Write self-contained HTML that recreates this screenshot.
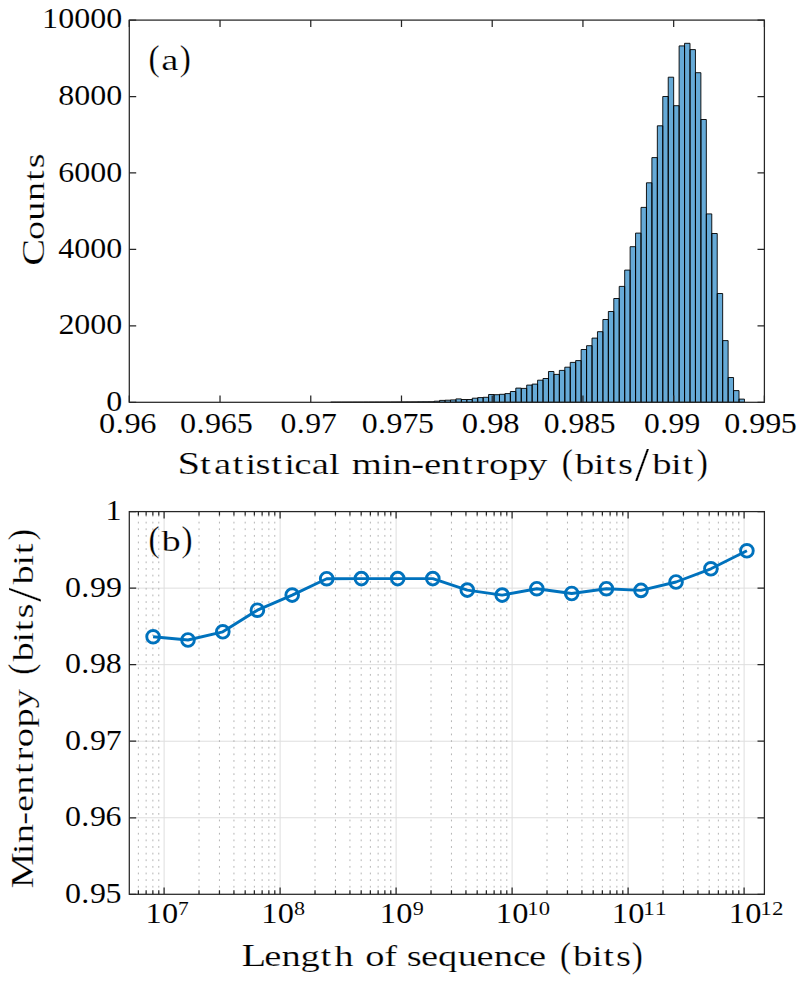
<!DOCTYPE html>
<html><head><meta charset="utf-8"><style>
html,body{margin:0;padding:0;background:#fff;width:811px;height:993px;overflow:hidden}
svg{display:block}
text{font-family:"Liberation Serif",serif}
</style></head><body>
<svg width="811" height="993" viewBox="0 0 811 993"><rect width="811" height="993" fill="#fff"/><path d="M330.72 402.30V402.20H336.16V402.30ZM336.16 402.30V402.19H341.60V402.30ZM341.60 402.30V402.19H347.05V402.30ZM347.05 402.30V402.18H352.49V402.30ZM352.49 402.30V402.17H357.94V402.30ZM357.94 402.30V402.16H363.38V402.30ZM363.38 402.30V402.14H368.82V402.30ZM368.82 402.30V402.12H374.27V402.30ZM374.27 402.30V402.10H379.71V402.30ZM379.71 402.30V402.07H385.15V402.30ZM385.15 402.30V402.05H390.60V402.30ZM390.60 402.30V402.02H396.04V402.30ZM396.04 402.30V401.99H401.49V402.30ZM401.49 402.30V401.95H406.93V402.30ZM406.93 402.30V401.92H412.37V402.30ZM412.37 402.30V401.88H417.82V402.30ZM417.82 402.30V401.84H423.26V402.30ZM423.26 402.30V401.80H428.70V402.30ZM428.70 402.30V401.75H434.15V402.30ZM434.15 402.30V401.20H439.59V402.30ZM439.59 402.30V400.40H445.04V402.30ZM445.04 402.30V400.20H450.48V402.30ZM450.48 402.30V399.90H455.92V402.30ZM455.92 402.30V398.90H461.37V402.30ZM461.37 402.30V399.50H466.81V402.30ZM466.81 402.30V399.50H472.25V402.30ZM472.25 402.30V398.20H477.70V402.30ZM477.70 402.30V397.60H483.14V402.30ZM483.14 402.30V397.30H488.59V402.30ZM488.59 402.30V394.50H494.03V402.30ZM494.03 402.30V394.70H499.47V402.30ZM499.47 402.30V394.30H504.92V402.30ZM504.92 402.30V393.60H510.36V402.30ZM510.36 402.30V391.50H515.80V402.30ZM515.80 402.30V388.10H521.25V402.30ZM521.25 402.30V388.40H526.69V402.30ZM526.69 402.30V385.10H532.13V402.30ZM532.13 402.30V384.10H537.58V402.30ZM537.58 402.30V380.20H543.02V402.30ZM543.02 402.30V378.50H548.47V402.30ZM548.47 402.30V371.50H553.91V402.30ZM553.91 402.30V374.40H559.35V402.30ZM559.35 402.30V370.40H564.80V402.30ZM564.80 402.30V367.20H570.24V402.30ZM570.24 402.30V362.40H575.68V402.30ZM575.68 402.30V360.60H581.13V402.30ZM581.13 402.30V349.50H586.57V402.30ZM586.57 402.30V345.70H592.02V402.30ZM592.02 402.30V338.10H597.46V402.30ZM597.46 402.30V331.70H602.90V402.30ZM602.90 402.30V319.50H608.35V402.30ZM608.35 402.30V311.50H613.79V402.30ZM613.79 402.30V298.50H619.23V402.30ZM619.23 402.30V286.40H624.68V402.30ZM624.68 402.30V270.10H630.12V402.30ZM630.12 402.30V246.70H635.57V402.30ZM635.57 402.30V233.10H641.01V402.30ZM641.01 402.30V207.40H646.45V402.30ZM646.45 402.30V182.80H651.90V402.30ZM651.90 402.30V157.60H657.34V402.30ZM657.34 402.30V125.80H662.78V402.30ZM662.78 402.30V96.50H668.23V402.30ZM668.23 402.30V77.20H673.67V402.30ZM673.67 402.30V105.70H679.12V402.30ZM679.12 402.30V45.90H684.56V402.30ZM684.56 402.30V43.30H690.00V402.30ZM690.00 402.30V49.60H695.45V402.30ZM695.45 402.30V72.70H700.89V402.30ZM700.89 402.30V119.50H706.33V402.30ZM706.33 402.30V213.90H711.78V402.30ZM711.78 402.30V233.50H717.22V402.30ZM717.22 402.30V293.50H722.66V402.30ZM722.66 402.30V340.60H728.11V402.30ZM728.11 402.30V377.50H733.55V402.30ZM733.55 402.30V390.60H739.00V402.30ZM739.00 402.30V399.10H744.44V402.30Z" fill="#66aad7" stroke="#000" stroke-width="0.9" stroke-linejoin="miter"/><path d="M129.30 402.30v-6.9M129.30 20.10v6.9M220.03 402.30v-6.9M220.03 20.10v6.9M310.76 402.30v-6.9M310.76 20.10v6.9M401.49 402.30v-6.9M401.49 20.10v6.9M492.21 402.30v-6.9M492.21 20.10v6.9M582.94 402.30v-6.9M582.94 20.10v6.9M673.67 402.30v-6.9M673.67 20.10v6.9M764.40 402.30v-6.9M764.40 20.10v6.9M129.30 402.30h6.9M764.40 402.30h-6.9M129.30 325.86h6.9M764.40 325.86h-6.9M129.30 249.42h6.9M764.40 249.42h-6.9M129.30 172.98h6.9M764.40 172.98h-6.9M129.30 96.54h6.9M764.40 96.54h-6.9M129.30 20.10h6.9M764.40 20.10h-6.9" stroke="#262626" stroke-width="1.25" fill="none"/><rect x="129.3" y="20.1" width="635.10" height="382.20" fill="none" stroke="#262626" stroke-width="1.25"/><path d="M164.10 511.60V894.30M280.10 511.60V894.30M396.10 511.60V894.30M512.10 511.60V894.30M628.10 511.60V894.30M744.10 511.60V894.30M129.30 817.76H764.40M129.30 741.22H764.40M129.30 664.68H764.40M129.30 588.14H764.40" stroke="#dedede" stroke-width="1" fill="none"/><path d="M138.37 511.60V894.30M146.13 511.60V894.30M152.86 511.60V894.30M158.79 511.60V894.30M199.02 511.60V894.30M219.45 511.60V894.30M233.94 511.60V894.30M245.18 511.60V894.30M254.37 511.60V894.30M262.13 511.60V894.30M268.86 511.60V894.30M274.79 511.60V894.30M315.02 511.60V894.30M335.45 511.60V894.30M349.94 511.60V894.30M361.18 511.60V894.30M370.37 511.60V894.30M378.13 511.60V894.30M384.86 511.60V894.30M390.79 511.60V894.30M431.02 511.60V894.30M451.45 511.60V894.30M465.94 511.60V894.30M477.18 511.60V894.30M486.37 511.60V894.30M494.13 511.60V894.30M500.86 511.60V894.30M506.79 511.60V894.30M547.02 511.60V894.30M567.45 511.60V894.30M581.94 511.60V894.30M593.18 511.60V894.30M602.37 511.60V894.30M610.13 511.60V894.30M616.86 511.60V894.30M622.79 511.60V894.30M663.02 511.60V894.30M683.45 511.60V894.30M697.94 511.60V894.30M709.18 511.60V894.30M718.37 511.60V894.30M726.13 511.60V894.30M732.86 511.60V894.30M738.79 511.60V894.30" stroke="#b4b4b4" stroke-width="1" fill="none" stroke-dasharray="1.8 4.82" stroke-dashoffset="-10.10"/><path d="M164.10 894.30v-6.9M164.10 511.60v6.9M280.10 894.30v-6.9M280.10 511.60v6.9M396.10 894.30v-6.9M396.10 511.60v6.9M512.10 894.30v-6.9M512.10 511.60v6.9M628.10 894.30v-6.9M628.10 511.60v6.9M744.10 894.30v-6.9M744.10 511.60v6.9M129.30 894.30h6.9M764.40 894.30h-6.9M129.30 817.76h6.9M764.40 817.76h-6.9M129.30 741.22h6.9M764.40 741.22h-6.9M129.30 664.68h6.9M764.40 664.68h-6.9M129.30 588.14h6.9M764.40 588.14h-6.9M129.30 511.60h6.9M764.40 511.60h-6.9M138.37 894.30v-4.0M138.37 511.60v4.0M146.13 894.30v-4.0M146.13 511.60v4.0M152.86 894.30v-4.0M152.86 511.60v4.0M158.79 894.30v-4.0M158.79 511.60v4.0M199.02 894.30v-4.0M199.02 511.60v4.0M219.45 894.30v-4.0M219.45 511.60v4.0M233.94 894.30v-4.0M233.94 511.60v4.0M245.18 894.30v-4.0M245.18 511.60v4.0M254.37 894.30v-4.0M254.37 511.60v4.0M262.13 894.30v-4.0M262.13 511.60v4.0M268.86 894.30v-4.0M268.86 511.60v4.0M274.79 894.30v-4.0M274.79 511.60v4.0M315.02 894.30v-4.0M315.02 511.60v4.0M335.45 894.30v-4.0M335.45 511.60v4.0M349.94 894.30v-4.0M349.94 511.60v4.0M361.18 894.30v-4.0M361.18 511.60v4.0M370.37 894.30v-4.0M370.37 511.60v4.0M378.13 894.30v-4.0M378.13 511.60v4.0M384.86 894.30v-4.0M384.86 511.60v4.0M390.79 894.30v-4.0M390.79 511.60v4.0M431.02 894.30v-4.0M431.02 511.60v4.0M451.45 894.30v-4.0M451.45 511.60v4.0M465.94 894.30v-4.0M465.94 511.60v4.0M477.18 894.30v-4.0M477.18 511.60v4.0M486.37 894.30v-4.0M486.37 511.60v4.0M494.13 894.30v-4.0M494.13 511.60v4.0M500.86 894.30v-4.0M500.86 511.60v4.0M506.79 894.30v-4.0M506.79 511.60v4.0M547.02 894.30v-4.0M547.02 511.60v4.0M567.45 894.30v-4.0M567.45 511.60v4.0M581.94 894.30v-4.0M581.94 511.60v4.0M593.18 894.30v-4.0M593.18 511.60v4.0M602.37 894.30v-4.0M602.37 511.60v4.0M610.13 894.30v-4.0M610.13 511.60v4.0M616.86 894.30v-4.0M616.86 511.60v4.0M622.79 894.30v-4.0M622.79 511.60v4.0M663.02 894.30v-4.0M663.02 511.60v4.0M683.45 894.30v-4.0M683.45 511.60v4.0M697.94 894.30v-4.0M697.94 511.60v4.0M709.18 894.30v-4.0M709.18 511.60v4.0M718.37 894.30v-4.0M718.37 511.60v4.0M726.13 894.30v-4.0M726.13 511.60v4.0M732.86 894.30v-4.0M732.86 511.60v4.0M738.79 894.30v-4.0M738.79 511.60v4.0" stroke="#262626" stroke-width="1.25" fill="none"/><rect x="129.3" y="511.6" width="635.10" height="382.70" fill="none" stroke="#262626" stroke-width="1.25"/><path d="M153.10 636.80L188.00 640.00L222.80 631.80L257.40 610.20L292.20 595.10L326.70 578.70L361.40 578.60L397.70 578.60L432.80 578.60L467.30 590.10L502.20 595.10L536.80 588.70L571.70 593.50L606.40 588.70L641.00 590.40L676.00 582.00L710.90 568.80L746.90 550.80" stroke="#0072bd" stroke-width="2.9" fill="none" stroke-linejoin="round"/><circle cx="153.10" cy="636.80" r="6.35" stroke="#0072bd" stroke-width="2.9" fill="none"/><circle cx="188.00" cy="640.00" r="6.35" stroke="#0072bd" stroke-width="2.9" fill="none"/><circle cx="222.80" cy="631.80" r="6.35" stroke="#0072bd" stroke-width="2.9" fill="none"/><circle cx="257.40" cy="610.20" r="6.35" stroke="#0072bd" stroke-width="2.9" fill="none"/><circle cx="292.20" cy="595.10" r="6.35" stroke="#0072bd" stroke-width="2.9" fill="none"/><circle cx="326.70" cy="578.70" r="6.35" stroke="#0072bd" stroke-width="2.9" fill="none"/><circle cx="361.40" cy="578.60" r="6.35" stroke="#0072bd" stroke-width="2.9" fill="none"/><circle cx="397.70" cy="578.60" r="6.35" stroke="#0072bd" stroke-width="2.9" fill="none"/><circle cx="432.80" cy="578.60" r="6.35" stroke="#0072bd" stroke-width="2.9" fill="none"/><circle cx="467.30" cy="590.10" r="6.35" stroke="#0072bd" stroke-width="2.9" fill="none"/><circle cx="502.20" cy="595.10" r="6.35" stroke="#0072bd" stroke-width="2.9" fill="none"/><circle cx="536.80" cy="588.70" r="6.35" stroke="#0072bd" stroke-width="2.9" fill="none"/><circle cx="571.70" cy="593.50" r="6.35" stroke="#0072bd" stroke-width="2.9" fill="none"/><circle cx="606.40" cy="588.70" r="6.35" stroke="#0072bd" stroke-width="2.9" fill="none"/><circle cx="641.00" cy="590.40" r="6.35" stroke="#0072bd" stroke-width="2.9" fill="none"/><circle cx="676.00" cy="582.00" r="6.35" stroke="#0072bd" stroke-width="2.9" fill="none"/><circle cx="710.90" cy="568.80" r="6.35" stroke="#0072bd" stroke-width="2.9" fill="none"/><circle cx="746.90" cy="550.80" r="6.35" stroke="#0072bd" stroke-width="2.9" fill="none"/><text transform="translate(0 410.81) scale(0.32000 0.29194)" font-size="100" fill="#000" stroke="#fff" stroke-width="0.26"><tspan x="332.39" y="0.00">0</tspan></text><text transform="translate(0 333.71) scale(0.32000 0.29490)" font-size="100" fill="#000" stroke="#fff" stroke-width="0.26"><tspan x="182.95" y="0.00">2</tspan><tspan x="232.39" y="0.00">0</tspan><tspan x="282.39" y="0.00">0</tspan><tspan x="332.39" y="0.00">0</tspan></text><text transform="translate(0 257.81) scale(0.32000 0.29490)" font-size="100" fill="#000" stroke="#fff" stroke-width="0.26"><tspan x="182.20" y="0.00">4</tspan><tspan x="232.39" y="0.00">0</tspan><tspan x="282.39" y="0.00">0</tspan><tspan x="332.39" y="0.00">0</tspan></text><text transform="translate(0 181.61) scale(0.32000 0.29194)" font-size="100" fill="#000" stroke="#fff" stroke-width="0.26"><tspan x="181.73" y="0.00">6</tspan><tspan x="232.39" y="0.00">0</tspan><tspan x="282.39" y="0.00">0</tspan><tspan x="332.39" y="0.00">0</tspan></text><text transform="translate(0 104.62) scale(0.32000 0.29045)" font-size="100" fill="#000" stroke="#fff" stroke-width="0.26"><tspan x="182.39" y="0.00">8</tspan><tspan x="232.39" y="0.00">0</tspan><tspan x="282.39" y="0.00">0</tspan><tspan x="332.39" y="0.00">0</tspan></text><text transform="translate(0 28.02) scale(0.32000 0.28897)" font-size="100" fill="#000" stroke="#fff" stroke-width="0.26"><tspan x="131.44" y="0.00">1</tspan><tspan x="182.39" y="0.00">0</tspan><tspan x="232.39" y="0.00">0</tspan><tspan x="282.39" y="0.00">0</tspan><tspan x="332.39" y="0.00">0</tspan></text><text transform="translate(0 432.88) scale(0.32452 0.29446)" font-size="100" fill="#000" stroke="#fff" stroke-width="0.26"><tspan x="305.43" y="0.00">0</tspan><tspan x="356.87" y="0.00">.</tspan><tspan x="383.55" y="0.00">9</tspan><tspan x="432.45" y="0.00">6</tspan></text><text transform="translate(0 432.88) scale(0.32144 0.29446)" font-size="100" fill="#000" stroke="#fff" stroke-width="0.26"><tspan x="559.75" y="0.00">0</tspan><tspan x="611.19" y="0.00">.</tspan><tspan x="637.88" y="0.00">9</tspan><tspan x="686.78" y="0.00">6</tspan><tspan x="736.49" y="0.00">5</tspan></text><text transform="translate(0 432.88) scale(0.31695 0.29446)" font-size="100" fill="#000" stroke="#fff" stroke-width="0.26"><tspan x="884.82" y="0.00">0</tspan><tspan x="936.26" y="0.00">.</tspan><tspan x="962.95" y="0.00">9</tspan><tspan x="1012.75" y="0.00">7</tspan></text><text transform="translate(0 432.88) scale(0.31870 0.29446)" font-size="100" fill="#000" stroke="#fff" stroke-width="0.26"><tspan x="1134.73" y="0.00">0</tspan><tspan x="1186.17" y="0.00">.</tspan><tspan x="1212.86" y="0.00">9</tspan><tspan x="1262.66" y="0.00">7</tspan><tspan x="1311.47" y="0.00">5</tspan></text><text transform="translate(0 432.88) scale(0.32629 0.29446)" font-size="100" fill="#000" stroke="#fff" stroke-width="0.26"><tspan x="1415.04" y="0.00">0</tspan><tspan x="1466.48" y="0.00">.</tspan><tspan x="1493.16" y="0.00">9</tspan><tspan x="1542.72" y="0.00">8</tspan></text><text transform="translate(0 432.88) scale(0.31641 0.29446)" font-size="100" fill="#000" stroke="#fff" stroke-width="0.26"><tspan x="1718.47" y="0.00">0</tspan><tspan x="1769.92" y="0.00">.</tspan><tspan x="1796.60" y="0.00">9</tspan><tspan x="1846.16" y="0.00">8</tspan><tspan x="1895.21" y="0.00">5</tspan></text><text transform="translate(0 432.88) scale(0.31567 0.29446)" font-size="100" fill="#000" stroke="#fff" stroke-width="0.26"><tspan x="2039.97" y="0.00">0</tspan><tspan x="2091.41" y="0.00">.</tspan><tspan x="2118.10" y="0.00">9</tspan><tspan x="2168.10" y="0.00">9</tspan></text><text transform="translate(0 432.88) scale(0.32099 0.29446)" font-size="100" fill="#000" stroke="#fff" stroke-width="0.26"><tspan x="2255.96" y="0.00">0</tspan><tspan x="2307.40" y="0.00">.</tspan><tspan x="2334.08" y="0.00">9</tspan><tspan x="2384.08" y="0.00">9</tspan><tspan x="2432.69" y="0.00">5</tspan></text><text transform="translate(0 473.50) scale(0.38763 0.30500)" font-size="100" fill="#000" stroke="#fff" stroke-width="0.70"><tspan x="458.12" y="0.00" font-size="105.0">S</tspan><tspan x="516.23" y="0.00">t</tspan><tspan x="552.26" y="0.00">a</tspan><tspan x="600.02" y="0.00">t</tspan><tspan x="633.38" y="0.00">i</tspan><tspan x="659.13" y="0.00">s</tspan><tspan x="699.94" y="0.00">t</tspan><tspan x="733.29" y="0.00">i</tspan><tspan x="758.79" y="0.00">c</tspan><tspan x="803.96" y="0.00">a</tspan><tspan x="848.92" y="0.00">l</tspan><tspan x="875.36" y="0.00">&#160;</tspan><tspan x="907.46" y="0.00">m</tspan><tspan x="984.57" y="0.00">i</tspan><tspan x="1012.83" y="0.00">n</tspan><tspan x="1060.70" y="0.00">-</tspan><tspan x="1093.75" y="0.00">e</tspan><tspan x="1138.50" y="0.00">n</tspan><tspan x="1191.99" y="0.00">t</tspan><tspan x="1227.31" y="0.00">r</tspan><tspan x="1261.58" y="0.00">o</tspan><tspan x="1312.20" y="0.00">p</tspan><tspan x="1362.02" y="0.00">y</tspan><tspan x="1412.29" y="0.00">&#160;</tspan><tspan x="1483.07" y="0.00">b</tspan><tspan x="1531.91" y="0.00">i</tspan><tspan x="1561.29" y="0.00">t</tspan><tspan x="1594.28" y="0.00">s</tspan><tspan x="1682.53" y="0.00">b</tspan><tspan x="1731.37" y="0.00">i</tspan><tspan x="1760.75" y="0.00">t</tspan></text><text transform="translate(561.71 473.99) scale(0.33440 0.35291)" font-size="100" fill="#000" stroke="#fff" stroke-width="0.70">(</text><text transform="translate(634.90 481.03) scale(0.50901 0.47836)" font-size="100" fill="#000" stroke="#fff" stroke-width="0.49">/</text><text transform="translate(696.73 473.99) scale(0.33440 0.35291)" font-size="100" fill="#000" stroke="#fff" stroke-width="0.70">)</text><text transform="translate(44.00 0) rotate(-90) scale(0.38097 0.30500)" font-size="100" fill="#000" stroke="#fff" stroke-width="0.70"><tspan x="-697.53" y="0.00" font-size="106.0">C</tspan><tspan x="-630.28" y="0.00">o</tspan><tspan x="-579.71" y="0.00">u</tspan><tspan x="-527.92" y="0.00">n</tspan><tspan x="-474.43" y="0.00">t</tspan><tspan x="-441.44" y="0.00">s</tspan></text><text transform="translate(0 69.80) scale(0.38696 0.30500)" font-size="100" fill="#000" stroke="#fff" stroke-width="0.70"><tspan x="416.72" y="0.00">a</tspan></text><text transform="translate(148.43 70.29) scale(0.33382 0.35291)" font-size="100" fill="#000" stroke="#fff" stroke-width="0.70">(</text><text transform="translate(179.75 70.29) scale(0.33382 0.35291)" font-size="100" fill="#000" stroke="#fff" stroke-width="0.70">)</text><text transform="translate(0 902.68) scale(0.32000 0.29888)" font-size="100" fill="#000" stroke="#fff" stroke-width="0.26"><tspan x="202.89" y="0.00">0</tspan><tspan x="254.33" y="0.00">.</tspan><tspan x="281.02" y="0.00">9</tspan><tspan x="329.62" y="0.00">5</tspan></text><text transform="translate(0 826.14) scale(0.32000 0.29888)" font-size="100" fill="#000" stroke="#fff" stroke-width="0.26"><tspan x="202.89" y="0.00">0</tspan><tspan x="254.33" y="0.00">.</tspan><tspan x="281.02" y="0.00">9</tspan><tspan x="329.92" y="0.00">6</tspan></text><text transform="translate(0 749.60) scale(0.32000 0.29888)" font-size="100" fill="#000" stroke="#fff" stroke-width="0.26"><tspan x="202.89" y="0.00">0</tspan><tspan x="254.33" y="0.00">.</tspan><tspan x="281.02" y="0.00">9</tspan><tspan x="330.82" y="0.00">7</tspan></text><text transform="translate(0 673.06) scale(0.32000 0.29888)" font-size="100" fill="#000" stroke="#fff" stroke-width="0.26"><tspan x="202.89" y="0.00">0</tspan><tspan x="254.33" y="0.00">.</tspan><tspan x="281.02" y="0.00">9</tspan><tspan x="330.58" y="0.00">8</tspan></text><text transform="translate(0 596.52) scale(0.32000 0.29888)" font-size="100" fill="#000" stroke="#fff" stroke-width="0.26"><tspan x="202.89" y="0.00">0</tspan><tspan x="254.33" y="0.00">.</tspan><tspan x="281.02" y="0.00">9</tspan><tspan x="331.02" y="0.00">9</tspan></text><text transform="translate(0 520.30) scale(0.32000 0.28630)" font-size="100" fill="#000" stroke="#fff" stroke-width="0.26"><tspan x="329.62" y="0.00">1</tspan></text><text transform="translate(0 922.82) scale(0.32415 0.28453)" font-size="100" fill="#000" stroke="#fff" stroke-width="0.26"><tspan x="449.04" y="0.00">1</tspan><tspan x="499.99" y="0.00">0</tspan></text><text transform="translate(0 915.00) scale(0.21460 0.19243)" font-size="100" fill="#000" stroke="#fff" stroke-width="0.39"><tspan x="829.63" y="0.00">7</tspan></text><text transform="translate(0 922.82) scale(0.32415 0.28453)" font-size="100" fill="#000" stroke="#fff" stroke-width="0.26"><tspan x="806.28" y="0.00">1</tspan><tspan x="857.23" y="0.00">0</tspan></text><text transform="translate(0 914.82) scale(0.22167 0.18672)" font-size="100" fill="#000" stroke="#fff" stroke-width="0.39"><tspan x="1326.58" y="0.00">8</tspan></text><text transform="translate(0 922.82) scale(0.32415 0.28453)" font-size="100" fill="#000" stroke="#fff" stroke-width="0.26"><tspan x="1171.85" y="0.00">1</tspan><tspan x="1222.80" y="0.00">0</tspan></text><text transform="translate(0 914.82) scale(0.22167 0.18753)" font-size="100" fill="#000" stroke="#fff" stroke-width="0.39"><tspan x="1861.61" y="0.00">9</tspan></text><text transform="translate(0 922.82) scale(0.32415 0.28453)" font-size="100" fill="#000" stroke="#fff" stroke-width="0.26"><tspan x="1529.40" y="0.00">1</tspan><tspan x="1580.35" y="0.00">0</tspan></text><text transform="translate(0 914.82) scale(0.22679 0.18672)" font-size="100" fill="#000" stroke="#fff" stroke-width="0.39"><tspan x="2324.61" y="0.00">1</tspan><tspan x="2375.56" y="0.00">0</tspan></text><text transform="translate(0 922.82) scale(0.32415 0.28453)" font-size="100" fill="#000" stroke="#fff" stroke-width="0.26"><tspan x="1886.95" y="0.00">1</tspan><tspan x="1937.90" y="0.00">0</tspan></text><text transform="translate(0 915.00) scale(0.23741 0.19086)" font-size="100" fill="#000" stroke="#fff" stroke-width="0.38"><tspan x="2708.34" y="0.00">1</tspan><tspan x="2758.34" y="0.00">1</tspan></text><text transform="translate(0 922.82) scale(0.32415 0.28453)" font-size="100" fill="#000" stroke="#fff" stroke-width="0.26"><tspan x="2248.20" y="0.00">1</tspan><tspan x="2299.15" y="0.00">0</tspan></text><text transform="translate(0 915.00) scale(0.22962 0.19030)" font-size="100" fill="#000" stroke="#fff" stroke-width="0.38"><tspan x="3310.62" y="0.00">1</tspan><tspan x="3362.13" y="0.00">2</tspan></text><text transform="translate(0 966.10) scale(0.38570 0.30500)" font-size="100" fill="#000" stroke="#fff" stroke-width="0.70"><tspan x="626.38" y="0.00" font-size="105.0">L</tspan><tspan x="685.35" y="0.00">e</tspan><tspan x="730.09" y="0.00">n</tspan><tspan x="779.10" y="0.00">g</tspan><tspan x="830.76" y="0.00">t</tspan><tspan x="866.82" y="0.00">h</tspan><tspan x="917.28" y="0.00">&#160;</tspan><tspan x="947.24" y="0.00">o</tspan><tspan x="996.22" y="0.00">f</tspan><tspan x="1024.66" y="0.00">&#160;</tspan><tspan x="1054.91" y="0.00">s</tspan><tspan x="1091.73" y="0.00">e</tspan><tspan x="1135.73" y="0.00">q</tspan><tspan x="1186.76" y="0.00">u</tspan><tspan x="1235.68" y="0.00">e</tspan><tspan x="1280.42" y="0.00">n</tspan><tspan x="1330.03" y="0.00">c</tspan><tspan x="1371.80" y="0.00">e</tspan><tspan x="1415.19" y="0.00">&#160;</tspan><tspan x="1485.97" y="0.00">b</tspan><tspan x="1534.81" y="0.00">i</tspan><tspan x="1564.19" y="0.00">t</tspan><tspan x="1597.18" y="0.00">s</tspan></text><text transform="translate(560.02 966.59) scale(0.33273 0.35291)" font-size="100" fill="#000" stroke="#fff" stroke-width="0.70">(</text><text transform="translate(631.78 966.59) scale(0.33273 0.35291)" font-size="100" fill="#000" stroke="#fff" stroke-width="0.70">)</text><text transform="translate(33.00 0) rotate(-90) scale(0.38638 0.30500)" font-size="100" fill="#000" stroke="#fff" stroke-width="0.70"><tspan x="-2299.87" y="0.00" font-size="105.0">M</tspan><tspan x="-2210.79" y="0.00">i</tspan><tspan x="-2182.53" y="0.00">n</tspan><tspan x="-2134.66" y="0.00">-</tspan><tspan x="-2101.61" y="0.00">e</tspan><tspan x="-2056.87" y="0.00">n</tspan><tspan x="-2003.37" y="0.00">t</tspan><tspan x="-1968.06" y="0.00">r</tspan><tspan x="-1933.79" y="0.00">o</tspan><tspan x="-1883.17" y="0.00">p</tspan><tspan x="-1833.34" y="0.00">y</tspan><tspan x="-1783.08" y="0.00">&#160;</tspan><tspan x="-1712.29" y="0.00">b</tspan><tspan x="-1663.46" y="0.00">i</tspan><tspan x="-1634.07" y="0.00">t</tspan><tspan x="-1601.09" y="0.00">s</tspan><tspan x="-1512.84" y="0.00">b</tspan><tspan x="-1464.00" y="0.00">i</tspan><tspan x="-1434.62" y="0.00">t</tspan></text><text transform="translate(33.00 0) rotate(-90) translate(-674.72 0.49) scale(0.33332 0.35291)" font-size="100" fill="#000" stroke="#fff" stroke-width="0.70">(</text><text transform="translate(33.00 0) rotate(-90) translate(-601.76 7.53) scale(0.50736 0.47836)" font-size="100" fill="#000" stroke="#fff" stroke-width="0.49">/</text><text transform="translate(33.00 0) rotate(-90) translate(-540.14 0.49) scale(0.33332 0.35291)" font-size="100" fill="#000" stroke="#fff" stroke-width="0.70">)</text><text transform="translate(0 551.00) scale(0.38496 0.30500)" font-size="100" fill="#000" stroke="#fff" stroke-width="0.70"><tspan x="419.59" y="0.00">b</tspan></text><text transform="translate(148.44 551.49) scale(0.33210 0.35291)" font-size="100" fill="#000" stroke="#fff" stroke-width="0.70">(</text><text transform="translate(181.60 551.49) scale(0.33210 0.35291)" font-size="100" fill="#000" stroke="#fff" stroke-width="0.70">)</text></svg>
</body></html>
